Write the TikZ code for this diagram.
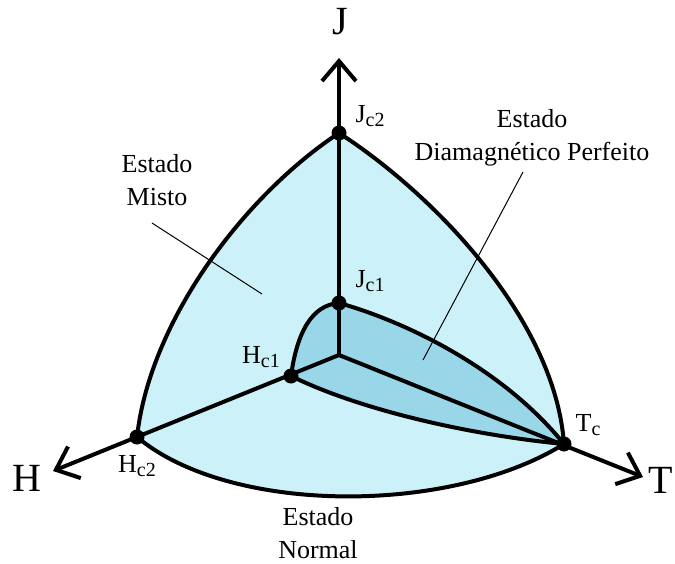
\documentclass[tikz,border=0pt]{standalone}
\usepackage{fontspec}
\setmainfont{Liberation Serif}
\usetikzlibrary{arrows.meta, backgrounds}
\definecolor{mixedblue}{RGB}{204,241,248}
\definecolor{meissnerblue}{RGB}{153,215,232}
\newcommand{\lowidx}[1]{\raisebox{-2pt}{\fontsize{10}{10}\selectfont #1}}
\tikzstyle{point} = [
    circle,
    fill=black,
    inner sep=0pt,
    minimum size=7.5pt
]
\tikzstyle{border} = [line width=2pt, line join=round]
\tikzstyle{axis} = [
    line width=2pt,
    -{Straight Barb[length=10pt, width=17pt]}
]
\tikzstyle{leader} = [line width=0.5pt]
\tikzstyle{txt} = [
    font=\fontsize{13}{16.5}\selectfont,
    align=center,
    inner sep=0pt
]
\tikzstyle{axisname} = [font=\fontsize{20}{20}\selectfont, inner sep=0pt]

\begin{document}
\begin{tikzpicture}[x=0.5pt, y=-0.5pt]
\useasboundingbox (0,0) rectangle (675,563);

\coordinate (o) at (339,355);
\coordinate (jtip) at (339,58);
\coordinate (htip) at (53,471);
\coordinate (ttip) at (643,477);

\node (jc2) [point] at (339,133) {};
\node (jc1) [point] at (339,303) {};
\node (hc1) [point] at (291,376) {};
\node (hc2) [point] at (137,437) {};
\node (tc) [point] at (564,444) {};

% regions
\begin{scope}[on background layer]
\fill [mixedblue] (jc2.center) .. controls (245,195) and (150,320) .. (hc2.center)
    .. controls (230,515) and (450,515) .. (tc.center)
    .. controls (555,320) and (435,195) .. (jc2.center) -- cycle;
\fill [meissnerblue] (jc1.center) .. controls (312,305) and (297,332) .. (hc1.center)
    .. controls (360,410) and (470,435) .. (tc.center)
    .. controls (500,365) and (400,320) .. (jc1.center) -- cycle;
\end{scope}

% outer boundary
\draw [border] (jc2.center) .. controls (245,195) and (150,320) .. (hc2.center);
\draw [border] (hc2.center) .. controls (230,515) and (450,515) .. (tc.center);
\draw [border] (tc.center) .. controls (555,320) and (435,195) .. (jc2.center);

% inner boundary
\draw [border] (jc1.center) .. controls (312,305) and (297,332) .. (hc1.center);
\draw [border] (hc1.center) .. controls (360,410) and (470,435) .. (tc.center);
\draw [border] (tc.center) .. controls (500,365) and (400,320) .. (jc1.center);

% axes
\draw [axis] (o) -- (jtip);
\draw [axis] (o) -- (htip);
\draw [axis] (o) -- (ttip);

\node (jname) [axisname] at (340,22) {J};
\node (hname) [axisname] at (27,478) {H};
\node (tname) [axisname] at (661,480) {T};

\node (jc2lab) [txt] at (370,116) {J\lowidx{c2}};
\node (jc1lab) [txt] at (370,281) {J\lowidx{c1}};
\node (hc1lab) [txt] at (261,357) {H\lowidx{c1}};
\node (hc2lab) [txt] at (137,466) {H\lowidx{c2}};
\node (tclab) [txt] at (588,425) {T\lowidx{c}};

\node (misto) [txt] at (157,180) {Estado\\Misto};
\node (diamag) [txt] at (532,138) {Estado\\Diamagnético Perfeito};
\node (normal) [txt] at (318,533) {Estado\\Normal};

\coordinate (mistostart) at (152,223);
\coordinate (mistoend) at (262,294);
\coordinate (diamagstart) at (523,172);
\coordinate (diamagend) at (423,360);
\draw [leader] (mistostart) -- (mistoend);
\draw [leader] (diamagstart) -- (diamagend);

\end{tikzpicture}
\end{document}
